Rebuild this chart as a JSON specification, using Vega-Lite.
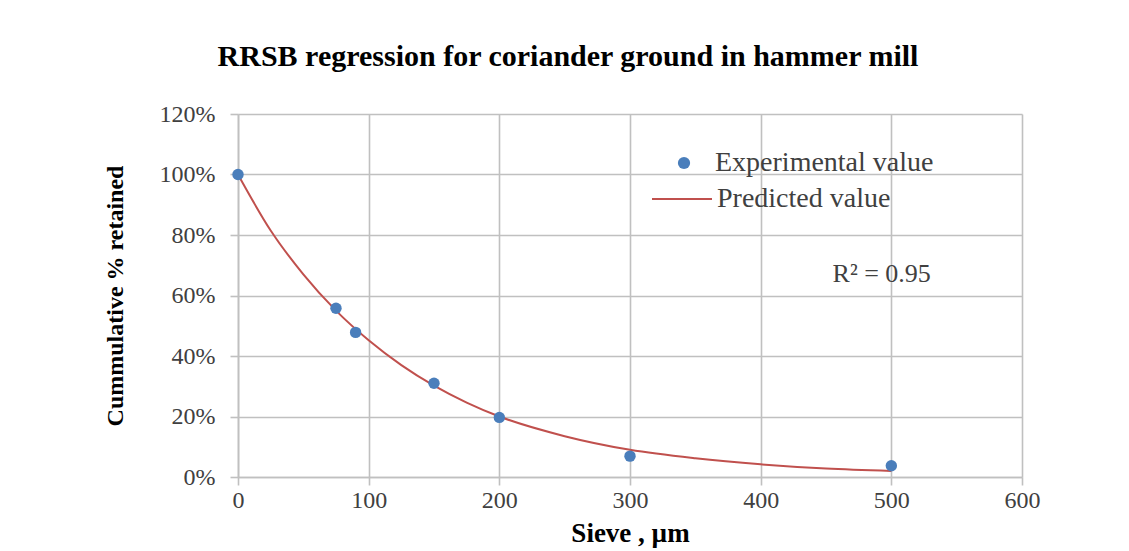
{
  "$schema": "https://vega.github.io/schema/vega-lite/v6.json",
  "width": 784,
  "height": 363,
  "autosize": "none",
  "padding": {"left": 238, "top": 114, "right": 107, "bottom": 74},
  "background": "white",
  "title": {
    "text": "RRSB regression for coriander ground in hammer mill",
    "font": "Liberation Serif",
    "fontSize": 30,
    "fontWeight": "bold",
    "color": "#000000",
    "anchor": "middle",
    "frame": "group",
    "dx": -62,
    "offset": 30
  },
  "config": {
    "view": {"stroke": null},
    "axis": {
      "grid": true,
      "gridColor": "#c0c0c0",
      "gridWidth": 1.6,
      "domainColor": "#c0c0c0",
      "domainWidth": 1.6,
      "tickColor": "#c0c0c0",
      "tickWidth": 1.6,
      "tickSize": 8,
      "labelFlush": false,
      "labelFont": "Liberation Serif",
      "labelFontSize": 24,
      "labelColor": "#404040",
      "titleFont": "Liberation Serif",
      "titleFontWeight": "bold",
      "titleColor": "#000000"
    }
  },
  "datasets": {
    "experimental": [
      {"sieve": 0, "retained": 1.0, "series": "Experimental value"},
      {"sieve": 75, "retained": 0.558, "series": "Experimental value"},
      {"sieve": 90, "retained": 0.478, "series": "Experimental value"},
      {"sieve": 150, "retained": 0.31, "series": "Experimental value"},
      {"sieve": 200, "retained": 0.197, "series": "Experimental value"},
      {"sieve": 300, "retained": 0.069, "series": "Experimental value"},
      {"sieve": 500, "retained": 0.037, "series": "Experimental value"}
    ],
    "predicted": [
      {"sieve": 0, "retained": 1.0, "series": "Predicted value"},
      {"sieve": 25, "retained": 0.815, "series": "Predicted value"},
      {"sieve": 50, "retained": 0.67, "series": "Predicted value"},
      {"sieve": 75, "retained": 0.55, "series": "Predicted value"},
      {"sieve": 100, "retained": 0.452, "series": "Predicted value"},
      {"sieve": 125, "retained": 0.37, "series": "Predicted value"},
      {"sieve": 150, "retained": 0.302, "series": "Predicted value"},
      {"sieve": 175, "retained": 0.246, "series": "Predicted value"},
      {"sieve": 200, "retained": 0.2, "series": "Predicted value"},
      {"sieve": 250, "retained": 0.135, "series": "Predicted value"},
      {"sieve": 300, "retained": 0.09, "series": "Predicted value"},
      {"sieve": 350, "retained": 0.062, "series": "Predicted value"},
      {"sieve": 400, "retained": 0.042, "series": "Predicted value"},
      {"sieve": 450, "retained": 0.028, "series": "Predicted value"},
      {"sieve": 500, "retained": 0.02, "series": "Predicted value"}
    ],
    "fit": [
      {"sieve": 455, "retained": 0.645, "label": "R² = 0.95"}
    ]
  },
  "encoding": {
    "x": {
      "field": "sieve",
      "type": "quantitative",
      "scale": {"domain": [0, 600], "nice": false},
      "axis": {
        "title": "Sieve , µm",
        "values": [0, 100, 200, 300, 400, 500, 600],
        "labelPadding": 3,
        "titleFontSize": 27,
        "titlePadding": 8
      }
    },
    "y": {
      "field": "retained",
      "type": "quantitative",
      "scale": {"domain": [0, 1.2], "nice": false},
      "axis": {
        "title": "Cummulative % retained",
        "values": [0, 0.2, 0.4, 0.6, 0.8, 1.0, 1.2],
        "format": ".0%",
        "labelPadding": 15,
        "titleFontSize": 24,
        "titlePadding": 32
      }
    }
  },
  "layer": [
    {
      "data": {"name": "predicted"},
      "mark": {"type": "line", "strokeWidth": 2, "interpolate": "monotone"},
      "encoding": {
        "stroke": {
          "field": "series",
          "type": "nominal",
          "scale": {"range": ["#c0504d"]},
          "legend": {
            "title": null,
            "orient": "none",
            "legendX": 413,
            "legendY": 54,
            "symbolType": "stroke",
            "symbolSize": 3600,
            "symbolStrokeWidth": 2,
            "labelFont": "Liberation Serif",
            "labelFontSize": 28,
            "labelColor": "#404040",
            "labelOffset": 4,
            "labelLimit": 400,
            "padding": 0
          }
        }
      }
    },
    {
      "data": {"name": "experimental"},
      "mark": {"type": "circle", "size": 130, "opacity": 1},
      "encoding": {
        "fill": {
          "field": "series",
          "type": "nominal",
          "scale": {"range": ["#4a7ebb"]},
          "legend": {
            "title": null,
            "orient": "none",
            "legendX": 432,
            "legendY": 35,
            "symbolType": "circle",
            "symbolSize": 150,
            "symbolOpacity": 1,
            "labelFont": "Liberation Serif",
            "labelFontSize": 28,
            "labelColor": "#404040",
            "labelOffset": 17,
            "labelLimit": 400,
            "padding": 0
          }
        }
      }
    },
    {
      "data": {"name": "fit"},
      "mark": {
        "type": "text",
        "align": "left",
        "baseline": "alphabetic",
        "font": "Liberation Serif",
        "fontSize": 26,
        "color": "#404040"
      },
      "encoding": {
        "text": {"field": "label"}
      }
    }
  ]
}
